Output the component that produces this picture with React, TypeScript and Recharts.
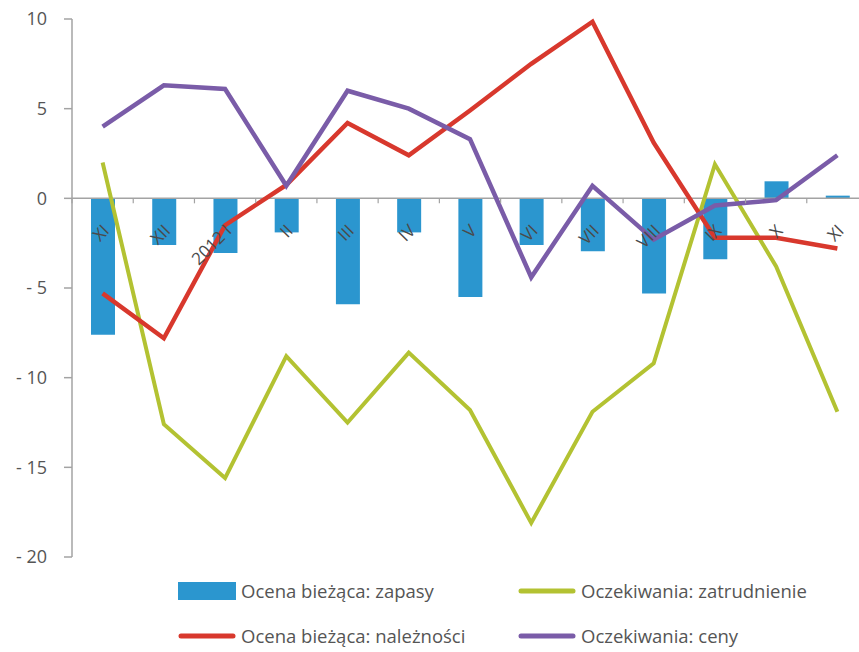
import React from 'react';
import {
  ComposedChart,
  Bar,
  Line,
  XAxis,
  YAxis,
  ReferenceLine,
  LabelList,
  Legend,
} from 'recharts';

// Survey balances, Nov 2011 – Nov 2012
const months = ['XI', 'XII', '2012 I', 'II', 'III', 'IV', 'V', 'VI', 'VII', 'VIII', 'IX', 'X', 'XI'];
const zapasy = [-7.6, -2.6, -3.05, -1.9, -5.9, -1.9, -5.5, -2.6, -2.95, -5.3, -3.4, 0.95, 0.15];
const naleznosci = [-5.3, -7.8, -1.5, 0.75, 4.2, 2.4, 4.9, 7.5, 9.85, 3.1, -2.2, -2.2, -2.8];
const zatrudnienie = [2.0, -12.6, -15.6, -8.8, -12.5, -8.6, -11.8, -18.1, -11.9, -9.2, 1.9, -3.8, -11.9];
const ceny = [4.0, 6.3, 6.1, 0.7, 6.0, 5.0, 3.3, -4.4, 0.7, -2.3, -0.4, -0.1, 2.4];
const yTicks = [-20, -15, -10, -5, 0, 5, 10];

const SERIES = [
  { key: 'zapasy', name: 'Ocena bieżąca: zapasy', color: '#2b96cf', kind: 'bar' },
  { key: 'zatrudnienie', name: 'Oczekiwania: zatrudnienie', color: '#b3c232', kind: 'line' },
  { key: 'naleznosci', name: 'Ocena bieżąca: należności', color: '#d8382d', kind: 'line' },
  { key: 'ceny', name: 'Oczekiwania: ceny', color: '#7a5ca8', kind: 'line' },
];

const data = months.map((m, i) => ({
  m,
  zapasy: zapasy[i],
  naleznosci: naleznosci[i],
  zatrudnienie: zatrudnienie[i],
  ceny: ceny[i],
}));

const WIDTH = 870;
const HEIGHT = 652;
const MARGIN = { top: 19, right: 2, bottom: 95, left: 0 };
const Y_AXIS_W = 72;
const PLOT_W = WIDTH - MARGIN.left - MARGIN.right - Y_AXIS_W;
const STEP = PLOT_W / months.length;

const FONT = '"Open Sans", Lato, sans-serif';
const TEXT_COLOR = '#555555';
const AXIS_COLOR = '#a3a3a3';

const fmtY = (v: number) => (v < 0 ? `- ${Math.abs(v)}` : `${v}`);

// Category labels sit on the zero line, tilted, with small ticks between bands
const CategoryTick = (props: any) => {
  const { x, y, value, index } = props;
  const ax = x + 3;
  const ay = y + 29;
  return (
    <g>
      <line x1={x - STEP / 2} x2={x - STEP / 2} y1={y} y2={y + 5} stroke={AXIS_COLOR} strokeWidth={1.2} />
      {index === months.length - 1 && (
        <line x1={x + STEP / 2} x2={x + STEP / 2} y1={y} y2={y + 5} stroke={AXIS_COLOR} strokeWidth={1.2} />
      )}
      <text
        x={ax}
        y={ay}
        textAnchor="end"
        dominantBaseline="central"
        transform={`rotate(-45, ${ax}, ${ay})`}
        fontSize={17}
        fontFamily={FONT}
        fill="#4a4a4a"
      >
        {value}
      </text>
    </g>
  );
};

const LegendContent = () => {
  const swatch = (s: (typeof SERIES)[number]) =>
    s.kind === 'bar' ? (
      <svg width={58} height={20} style={{ flex: 'none' }}>
        <rect x={0} y={1} width={58} height={18} fill={s.color} />
      </svg>
    ) : (
      <svg width={58} height={20} style={{ flex: 'none' }}>
        <line x1={3} x2={55} y1={10} y2={10} stroke={s.color} strokeWidth={5} strokeLinecap="round" />
      </svg>
    );
  return (
    <div
      style={{
        display: 'grid',
        gridTemplateColumns: '340px 300px',
        rowGap: 25,
        fontFamily: FONT,
        fontSize: 18.5,
        color: TEXT_COLOR,
      }}
    >
      {SERIES.map((s) => (
        <div key={s.key} style={{ display: 'flex', alignItems: 'center', height: 20 }}>
          {swatch(s)}
          <span style={{ marginLeft: 5, whiteSpace: 'nowrap', lineHeight: '20px' }}>{s.name}</span>
        </div>
      ))}
    </div>
  );
};

export default function App() {
  return (
    <div
      style={{
        position: 'absolute',
        left: 0,
        top: 0,
        width: 859,
        height: 652,
        overflow: 'hidden',
        background: '#ffffff',
      }}
    >
      <ComposedChart width={WIDTH} height={HEIGHT} data={data} margin={MARGIN}>
        <XAxis dataKey="m" hide />
        <YAxis
          width={Y_AXIS_W}
          domain={[-20, 10]}
          ticks={yTicks}
          interval={0}
          tickFormatter={fmtY}
          axisLine={{ stroke: AXIS_COLOR, strokeWidth: 1.5 }}
          tickLine={{ stroke: AXIS_COLOR, strokeWidth: 1.5 }}
          tickSize={8}
          tickMargin={17}
          tick={{ fill: TEXT_COLOR, fontSize: 18, fontFamily: FONT }}
        />
        <Bar dataKey="zapasy" name={SERIES[0].name} fill={SERIES[0].color} barSize={24} isAnimationActive={false} />
        <ReferenceLine y={0} stroke={AXIS_COLOR} strokeWidth={1.5} />
        <Line
          type="linear"
          dataKey="zatrudnienie"
          name={SERIES[1].name}
          stroke={SERIES[1].color}
          strokeWidth={4}
          dot={false}
          activeDot={false}
          isAnimationActive={false}
        />
        <Line
          type="linear"
          dataKey="naleznosci"
          name={SERIES[2].name}
          stroke={SERIES[2].color}
          strokeWidth={4.5}
          dot={false}
          activeDot={false}
          isAnimationActive={false}
        />
        <Line
          type="linear"
          dataKey="ceny"
          name={SERIES[3].name}
          stroke={SERIES[3].color}
          strokeWidth={4.5}
          dot={false}
          activeDot={false}
          isAnimationActive={false}
        />
        <Line
          dataKey={() => 0}
          stroke="none"
          dot={false}
          activeDot={false}
          legendType="none"
          isAnimationActive={false}
        >
          <LabelList dataKey="m" content={CategoryTick} />
        </Line>
        <Legend
          layout="horizontal"
          verticalAlign="middle"
          align="center"
          content={LegendContent}
          wrapperStyle={{ top: 581, left: 178, width: 680, height: 70 }}
        />
      </ComposedChart>
    </div>
  );
}
